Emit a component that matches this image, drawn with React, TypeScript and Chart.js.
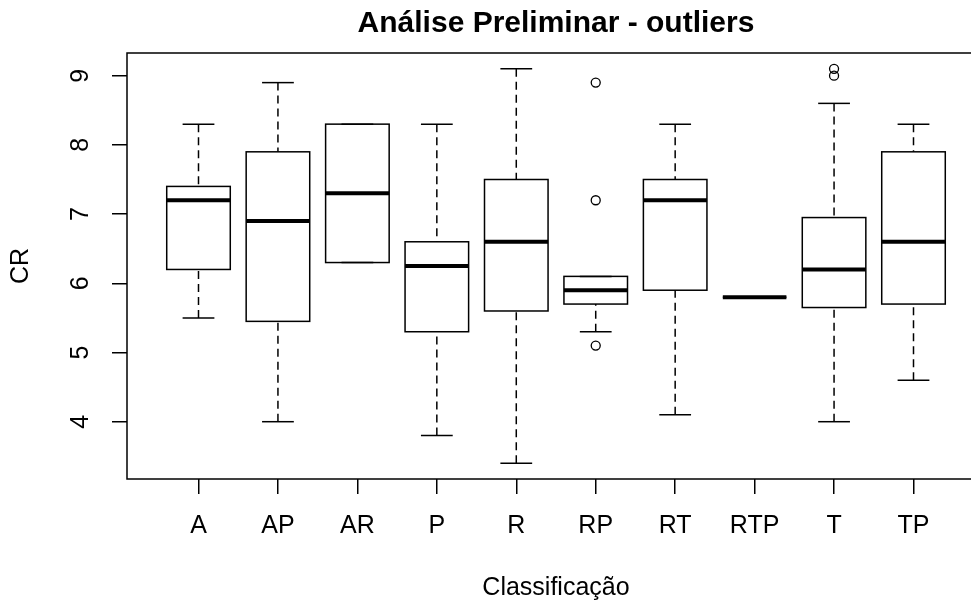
import { useEffect, useRef } from 'react';
import { Chart, registerables } from 'chart.js';

Chart.register(...registerables);

const categories = ['A', 'AP', 'AR', 'P', 'R', 'RP', 'RT', 'RTP', 'T', 'TP'];
const lowerWhisker = [5.5, 4.0, 6.3, 3.8, 3.4, 5.3, 4.1, 5.8, 4.0, 4.6];
const firstQuartile = [6.2, 5.45, 6.3, 5.3, 5.6, 5.7, 5.9, 5.8, 5.65, 5.7];
const medians = [7.2, 6.9, 7.3, 6.25, 6.6, 5.9, 7.2, 5.8, 6.2, 6.6];
const thirdQuartile = [7.4, 7.9, 8.3, 6.6, 7.5, 6.1, 7.5, 5.8, 6.95, 7.9];
const upperWhisker = [8.3, 8.9, 8.3, 8.3, 9.1, 6.1, 8.3, 5.8, 8.6, 8.3];
const outlierCategory = ['RP', 'RP', 'RP', 'T', 'T'];
const outlierValues = [8.9, 7.2, 5.1, 9.1, 9.0];
const yTickValues = [4, 5, 6, 7, 8, 9];
const yMin = 3.172;
const yMax = 9.328;

const FONT = '"Liberation Sans", Arial, sans-serif';

const boxPlugin = {
  id: 'rBoxes',
  beforeDatasetsDraw(chart: any) {
    const { ctx, scales } = chart;
    const x = scales.x;
    const y = scales.y;
    ctx.save();
    ctx.strokeStyle = '#000';
    const line = (x1: number, y1: number, x2: number, y2: number) => {
      ctx.beginPath();
      ctx.moveTo(x1, y1);
      ctx.lineTo(x2, y2);
      ctx.stroke();
    };
    categories.forEach((_, i) => {
      const c = i + 1;
      const px = x.getPixelForValue(c);
      const left = x.getPixelForValue(c - 0.4);
      const right = x.getPixelForValue(c + 0.4);
      const capL = x.getPixelForValue(c - 0.2);
      const capR = x.getPixelForValue(c + 0.2);
      const yLo = y.getPixelForValue(lowerWhisker[i]);
      const yQ1 = y.getPixelForValue(firstQuartile[i]);
      const yMed = y.getPixelForValue(medians[i]);
      const yQ3 = y.getPixelForValue(thirdQuartile[i]);
      const yHi = y.getPixelForValue(upperWhisker[i]);
      // box
      ctx.lineWidth = 1.5;
      ctx.setLineDash([]);
      ctx.fillStyle = '#fff';
      ctx.fillRect(left, yQ3, right - left, yQ1 - yQ3);
      ctx.strokeRect(left, yQ3, right - left, yQ1 - yQ3);
      // whiskers
      ctx.setLineDash([8, 5]);
      if (Math.abs(yLo - yQ1) > 0.5) line(px, yLo, px, yQ1);
      if (Math.abs(yHi - yQ3) > 0.5) line(px, yHi, px, yQ3);
      ctx.setLineDash([]);
      line(capL, yLo, capR, yLo);
      line(capL, yHi, capR, yHi);
      // median
      ctx.lineWidth = 4;
      ctx.lineCap = 'butt';
      line(left, yMed, right, yMed);
    });
    ctx.restore();
  },
  afterDraw(chart: any) {
    const { ctx, chartArea, scales } = chart;
    const y = scales.y;
    ctx.save();
    ctx.strokeStyle = '#000';
    ctx.lineWidth = 1.5;
    ctx.strokeRect(chartArea.left, chartArea.top, chartArea.right - chartArea.left, chartArea.bottom - chartArea.top);
    ctx.fillStyle = '#000';
    ctx.font = `25px ${FONT}`;
    ctx.textAlign = 'center';
    ctx.textBaseline = 'middle';
    yTickValues.forEach((v) => {
      const py = y.getPixelForValue(v);
      ctx.save();
      ctx.translate(81, py);
      ctx.rotate(-Math.PI / 2);
      ctx.fillText(String(v), 0, 0);
      ctx.restore();
    });
    ctx.save();
    ctx.translate(21.5, (chartArea.top + chartArea.bottom) / 2);
    ctx.rotate(-Math.PI / 2);
    ctx.fillText('CR', 0, 0);
    ctx.restore();
    ctx.restore();
  },
};

export default function App() {
  const canvasRef = useRef<HTMLCanvasElement>(null);

  useEffect(() => {
    const canvas = canvasRef.current;
    if (!canvas) return;
    const outlierPoints = outlierValues.map((v, i) => ({
      x: categories.indexOf(outlierCategory[i]) + 1,
      y: v,
    }));
    const chart = new Chart(canvas, {
      type: 'scatter',
      data: {
        datasets: [
          {
            label: 'outliers',
            data: outlierPoints,
            pointStyle: 'circle',
            pointRadius: 4.5,
            pointBorderWidth: 1.3,
            pointBackgroundColor: 'rgba(0,0,0,0)',
            pointBorderColor: '#000',
            showLine: false,
          },
        ],
      },
      options: {
        animation: false,
        responsive: false,
        devicePixelRatio: 1,
        layout: { padding: { left: 0, top: 0, right: 15, bottom: 0 } },
        plugins: {
          legend: { display: false },
          tooltip: { enabled: false },
          title: {
            display: true,
            text: 'Análise Preliminar - outliers',
            fullSize: false,
            color: '#000',
            font: { family: FONT, size: 30, weight: 'bold', lineHeight: 1.2 },
            padding: { top: 6, bottom: 11 },
          },
        },
        scales: {
          x: {
            type: 'linear',
            min: 0.1,
            max: 10.9,
            afterBuildTicks: (scale: any) => {
              scale.ticks = categories.map((_, i) => ({ value: i + 1 }));
            },
            afterFit: (scale: any) => {
              scale.height = 122;
            },
            ticks: {
              autoSkip: false,
              maxRotation: 0,
              minRotation: 0,
              padding: 17,
              color: '#000',
              font: { family: FONT, size: 25 },
              callback: (_v: any, index: number) => categories[index],
            },
            grid: {
              display: true,
              drawOnChartArea: false,
              drawTicks: true,
              tickLength: 15,
              color: '#000',
              lineWidth: 1.5,
            },
            border: { display: false },
            title: {
              display: true,
              text: 'Classificação',
              color: '#000',
              font: { family: FONT, size: 25, lineHeight: 1 },
              padding: { top: 0, bottom: 0 },
            },
          },
          y: {
            type: 'linear',
            min: yMin,
            max: yMax,
            afterBuildTicks: (scale: any) => {
              scale.ticks = yTickValues.map((v) => ({ value: v }));
            },
            afterFit: (scale: any) => {
              scale.width = 127;
            },
            ticks: { display: false },
            grid: {
              display: true,
              drawOnChartArea: false,
              drawTicks: true,
              tickLength: 15,
              color: '#000',
              lineWidth: 1.5,
            },
            border: { display: false },
          },
        },
      },
      plugins: [boxPlugin],
    } as any);
    return () => chart.destroy();
  }, []);

  return (
    <div
      style={{
        position: 'fixed',
        left: 0,
        top: 0,
        width: 971,
        height: 601,
        overflow: 'hidden',
        background: '#fff',
      }}
    >
      <canvas ref={canvasRef} width={1000} height={601} style={{ width: 1000, height: 601, display: 'block' }} />
    </div>
  );
}
